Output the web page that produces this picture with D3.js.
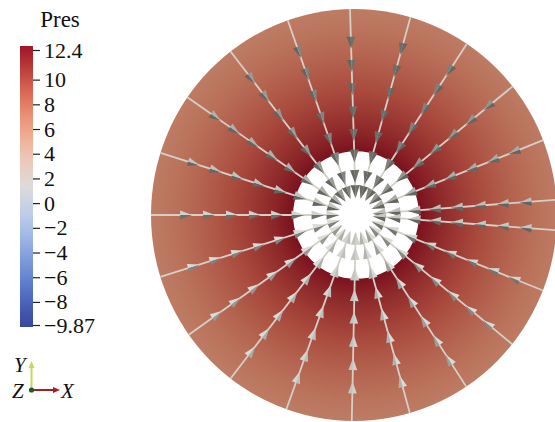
<!DOCTYPE html>
<html><head><meta charset="utf-8">
<script src="https://cdn.jsdelivr.net/npm/d3@7"></script>
<style>html,body{margin:0;padding:0;background:#fff;}svg{display:block;}
text{font-family:"Liberation Serif","Times New Roman",Times,serif;}</style>
</head><body>
<svg id="chart" width="555" height="422"></svg>
<script>
// ---- data ----
const colorbarTicks = [12.4, 10, 8, 6, 4, 2, 0, -2, -4, -6, -8, -9.87];
const tickLabels = ["12.4", "10", "8", "6", "4", "2", "0", "\u22122", "\u22124", "\u22126", "\u22128", "\u22129.87"];
const presMin = -9.87, presMax = 12.4;
const cmapT = [0, 0.125, 0.25, 0.375, 0.5, 0.625, 0.75, 0.875, 1];
const cmapColors = ["#37469f", "#5573c6", "#82a0dc", "#b4c8eb", "#dcdcdc", "#eec3af", "#eb9678", "#d25a4b", "#a01628"];
const radialR = [0.31, 0.4, 0.5, 0.6, 0.7, 0.8, 0.9, 1.0];
const radialP = [12.4, 11.6, 10.6, 9.6, 8.7, 7.9, 7.2, 6.6];
const lineAngles = [91.7, 74.4, 56.7, 39.0, 21.5, 4.3, -4.3, -21.7, -39.2, -56.9, -74.6, -91.2,
                    -110, -127.9, -144.8, -162.7, 180, 162.6, 145.5, 127.9, 109.6];
const glyphR = [0.837, 0.724, 0.611, 0.498, 0.389, 0.286, 0.187, 0.113];
const lineInnerR = 0.09;
const holeCenter = [0.01, 0];
const holeR = 0.31;

// ---- setup ----
const FONT = "'Liberation Serif','Times New Roman',Times,serif";
const svg = d3.select("#chart");
const x = d3.scaleLinear().domain([-1, 1]).range([151, 557]);
const y = d3.scaleLinear().domain([-1, 1]).range([421, 9]);
const color = d3.scaleLinear()
  .domain(cmapT.map(t => presMin + t * (presMax - presMin)))
  .range(cmapColors).interpolate(d3.interpolateLab).clamp(true);
const shade = (c, k) => { const o = d3.rgb(c); return d3.rgb(o.r * k, o.g * k, o.b * k).formatHex(); };

const defs = svg.append("defs");
const rg = defs.append("radialGradient").attr("id", "diskGrad")
  .attr("gradientUnits", "userSpaceOnUse")
  .attr("cx", x(holeCenter[0])).attr("cy", y(holeCenter[1]))
  .attr("r", x(1) - x(0));
rg.append("stop").attr("offset", 0).attr("stop-color", shade(color(radialP[0]), 0.76));
radialR.forEach((r, i) => {
  rg.append("stop").attr("offset", r).attr("stop-color", shade(color(radialP[i]), i === 0 ? 0.76 : 0.8));
});

svg.append("ellipse")
  .attr("cx", x(0)).attr("cy", y(0))
  .attr("rx", x(1) - x(0)).attr("ry", y(-1) - y(0))
  .attr("fill", "url(#diskGrad)");
svg.append("ellipse")
  .attr("cx", x(holeCenter[0])).attr("cy", y(holeCenter[1]))
  .attr("rx", x(holeR) - x(0)).attr("ry", y(0) - y(holeR))
  .attr("fill", "#ffffff");

// streamlines + cone glyphs
const line = d3.line().x(d => x(d[0])).y(d => y(d[1]));
const gLines = svg.append("g");
const gCones = svg.append("g");
const L = [0.15, -0.99];
lineAngles.forEach(a => {
  const rad = a * Math.PI / 180;
  const u = [Math.cos(rad), Math.sin(rad)];
  const c = holeCenter;
  const cu = c[0] * u[0] + c[1] * u[1];
  const tOut = -cu + Math.sqrt(cu * cu - (c[0] * c[0] + c[1] * c[1] - 1));
  const pt = t => [c[0] + t * u[0], c[1] + t * u[1]];
  gLines.append("path").attr("d", line([pt(tOut), pt(lineInnerR)]))
    .attr("stroke", "#d4d0c8").attr("stroke-width", 1.8).attr("fill", "none");
  glyphR.forEach(t => {
    if (t > tOut - 0.03) return;
    const P = pt(t), Q = pt(t - 0.05);
    const px = x(P[0]), py = y(P[1]);
    let dx = x(Q[0]) - px, dy = y(Q[1]) - py;
    const n = Math.hypot(dx, dy); dx /= n; dy /= n;
    const inner = t < holeR;
    const len = inner ? 13 : 12, hw = inner ? 4.6 : 4.4;
    const tip = [px + dx * len / 2, py + dy * len / 2];
    const base = [px - dx * len / 2, py - dy * len / 2];
    [1, -1].forEach(s => {
      const pxp = -dy * s, pyp = dx * s;
      const nx = pxp * 0.7 + dx * 0.7, ny = pyp * 0.7 + dy * 0.7;
      let b = 0.6 + 0.28 * (nx * L[0] + ny * L[1]);
      b = Math.max(0.4, Math.min(0.86, b));
      const g = Math.round(255 * b);
      gCones.append("path")
        .attr("d", d3.line()([tip, base, [base[0] + pxp * hw, base[1] + pyp * hw]]) + "Z")
        .attr("fill", d3.rgb(g, g, g - 5).formatHex());
    });
  });
});

// ---- colorbar ----
const cb = d3.scaleLinear().domain([presMax, presMin]).range([50, 325]);
const barTop = 46, barBot = 327;
const lg = defs.append("linearGradient").attr("id", "cbGrad")
  .attr("x1", 0).attr("y1", 0).attr("x2", 0).attr("y2", 1);
d3.range(0, 1.0001, 0.05).forEach(f => {
  const v = cb.invert(barTop + f * (barBot - barTop));
  lg.append("stop").attr("offset", f).attr("stop-color", color(v));
});
svg.append("rect").attr("x", 20).attr("y", barTop).attr("width", 13).attr("height", barBot - barTop)
  .attr("fill", "url(#cbGrad)");
const axis = svg.append("g").attr("transform", "translate(33,0)")
  .call(d3.axisRight(cb).tickValues(colorbarTicks).tickFormat((d, i) => tickLabels[i]).tickSize(7).tickPadding(4));
axis.attr("font-family", FONT).attr("font-size", 22);
axis.select(".domain").remove();
axis.selectAll(".tick line").attr("stroke", "#222").attr("stroke-width", 1.2);
axis.selectAll(".tick text").attr("font-family", FONT).attr("font-size", 22).attr("fill", "#111");
svg.append("text").attr("x", 60).attr("y", 27).attr("text-anchor", "middle")
  .attr("font-family", FONT).attr("font-size", 23).attr("fill", "#111").text("Pres");

// ---- orientation triad ----
const o = [31.5, 390];
svg.append("line").attr("x1", o[0]).attr("y1", o[1]).attr("x2", o[0]).attr("y2", 367)
  .attr("stroke", "#c4d85a").attr("stroke-width", 2);
svg.append("path").attr("d", d3.line()([[o[0], 361], [o[0] - 3, 368], [o[0] + 3, 368]]) + "Z").attr("fill", "#c4d85a");
svg.append("line").attr("x1", o[0]).attr("y1", o[1]).attr("x2", 54).attr("y2", o[1])
  .attr("stroke", "#a61e1e").attr("stroke-width", 2);
svg.append("path").attr("d", d3.line()([[60, o[1]], [53, o[1] - 3], [53, o[1] + 3]]) + "Z").attr("fill", "#a61e1e");
svg.append("circle").attr("cx", o[0]).attr("cy", o[1]).attr("r", 2.6).attr("fill", "#1d5a2a");
const tri = [["Y", 14, 372], ["Z", 12, 398], ["X", 61, 398]];
tri.forEach(t => svg.append("text").attr("x", t[1]).attr("y", t[2])
  .attr("font-family", FONT).attr("font-style", "italic").attr("font-size", 21)
  .attr("fill", "#111").text(t[0]));
</script>
</body></html>
